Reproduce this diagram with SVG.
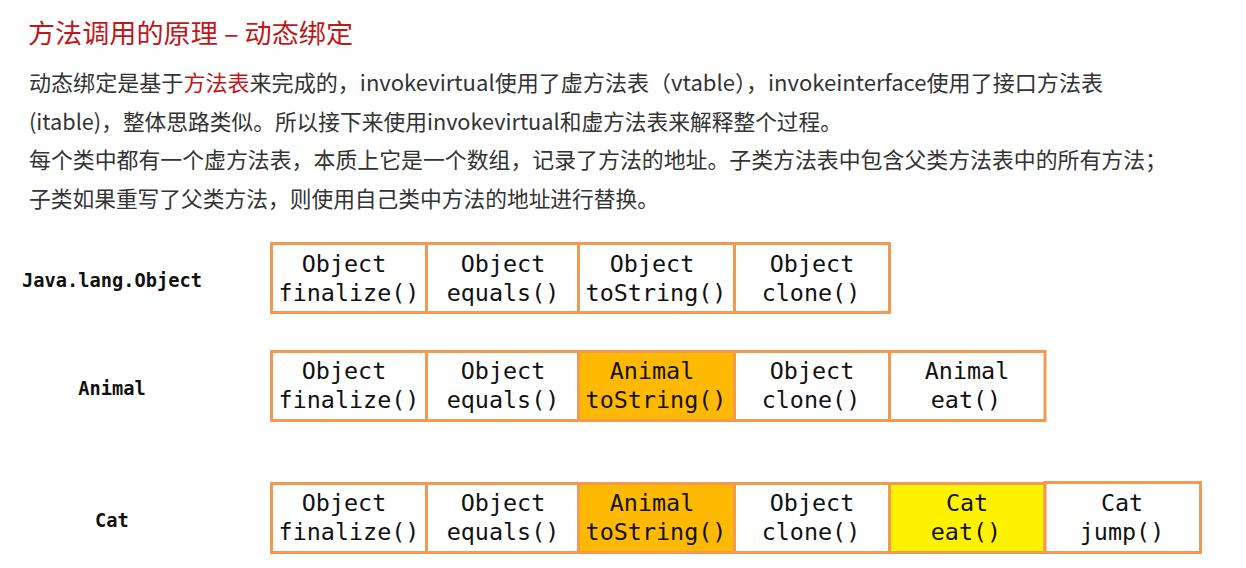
<svg xmlns="http://www.w3.org/2000/svg" width="1246" height="568" viewBox="0 0 1246 568">
<style>
.title{font-family:"Noto Sans CJK SC","Noto Sans",sans-serif;font-size:26.5px;fill:#c0171a}
.body{font-family:"Noto Sans CJK SC","Noto Sans",sans-serif;font-size:21.8px;fill:#333}
.red{fill:#c0171a}
.cell{fill:#ffffff;stroke:#f39a52;stroke-width:3}
.hl1{fill:#ffb900}
.hl2{fill:#fff200}
.ct{font-family:"DejaVu Sans Mono","Liberation Mono",monospace;font-size:23.4px;fill:#111;text-anchor:middle}
.lbl{font-family:"DejaVu Sans Mono","Liberation Mono",monospace;font-size:18.7px;font-weight:bold;fill:#111;text-anchor:middle}
</style>
<rect width="1246" height="568" fill="#ffffff"/>
<text class="title" x="28" y="43" textLength="325" lengthAdjust="spacingAndGlyphs">方法调用的原理 – 动态绑定</text>
<text class="body" x="29" y="91" textLength="1074" lengthAdjust="spacingAndGlyphs">动态绑定是基于<tspan class="red">方法表</tspan>来完成的，invokevirtual使用了虚方法表（vtable），invokeinterface使用了接口方法表</text>
<text class="body" x="29" y="130" textLength="813" lengthAdjust="spacingAndGlyphs">(itable)，整体思路类似。所以接下来使用invokevirtual和虚方法表来解释整个过程。</text>
<text class="body" x="29" y="168" textLength="1138" lengthAdjust="spacingAndGlyphs">每个类中都有一个虚方法表，本质上它是一个数组，记录了方法的地址。子类方法表中包含父类方法表中的所有方法；</text>
<text class="body" x="29" y="207" textLength="630" lengthAdjust="spacingAndGlyphs">子类如果重写了父类方法，则使用自己类中方法的地址进行替换。</text>

<g id="label-object"><text class="lbl" x="112" y="287">Java.lang.Object</text></g>
<g id="label-animal"><text class="lbl" x="112" y="395">Animal</text></g>
<g id="label-cat"><text class="lbl" x="112" y="527">Cat</text></g>

<g id="connectors"></g>

<!-- Row 1: Java.lang.Object -->
<g id="obj-finalize"><rect class="cell" x="271.5" y="243.5" width="155" height="69"/><text class="ct" x="344" y="272">Object</text><text class="ct" x="349" y="301">finalize()</text></g>
<g id="obj-equals"><rect class="cell" x="426.5" y="243.5" width="152" height="69"/><text class="ct" x="503" y="272">Object</text><text class="ct" x="503" y="301">equals()</text></g>
<g id="obj-tostring"><rect class="cell" x="578.5" y="243.5" width="156" height="69"/><text class="ct" x="652" y="272">Object</text><text class="ct" x="656" y="301">toString()</text></g>
<g id="obj-clone"><rect class="cell" x="734.5" y="243.5" width="155" height="69"/><text class="ct" x="812" y="272">Object</text><text class="ct" x="811" y="301">clone()</text></g>

<!-- Row 2: Animal -->
<g id="animal-finalize"><rect class="cell" x="271.5" y="351.5" width="155" height="69"/><text class="ct" x="344" y="379">Object</text><text class="ct" x="349" y="408">finalize()</text></g>
<g id="animal-equals"><rect class="cell" x="426.5" y="351.5" width="152" height="69"/><text class="ct" x="503" y="379">Object</text><text class="ct" x="503" y="408">equals()</text></g>
<g id="animal-tostring"><rect class="cell hl1" x="578.5" y="351.5" width="156" height="69"/><text class="ct" x="652" y="379">Animal</text><text class="ct" x="656" y="408">toString()</text></g>
<g id="animal-clone"><rect class="cell" x="734.5" y="351.5" width="155" height="69"/><text class="ct" x="812" y="379">Object</text><text class="ct" x="811" y="408">clone()</text></g>
<g id="animal-eat"><rect class="cell" x="889.5" y="351.5" width="155.5" height="69"/><text class="ct" x="967" y="379">Animal</text><text class="ct" x="966" y="408">eat()</text></g>

<!-- Row 3: Cat -->
<g id="cat-finalize"><rect class="cell" x="271.5" y="483.5" width="155" height="69"/><text class="ct" x="344" y="511">Object</text><text class="ct" x="349" y="540">finalize()</text></g>
<g id="cat-equals"><rect class="cell" x="426.5" y="483.5" width="152" height="69"/><text class="ct" x="503" y="511">Object</text><text class="ct" x="503" y="540">equals()</text></g>
<g id="cat-tostring"><rect class="cell hl1" x="578.5" y="483.5" width="156" height="69"/><text class="ct" x="652" y="511">Animal</text><text class="ct" x="656" y="540">toString()</text></g>
<g id="cat-clone"><rect class="cell" x="734.5" y="483.5" width="155" height="69"/><text class="ct" x="812" y="511">Object</text><text class="ct" x="811" y="540">clone()</text></g>
<g id="cat-eat"><rect class="cell hl2" x="889.5" y="483.5" width="155.5" height="69"/><text class="ct" x="967" y="511">Cat</text><text class="ct" x="966" y="540">eat()</text></g>
<g id="cat-jump"><rect class="cell" x="1045" y="482.5" width="155.5" height="70"/><text class="ct" x="1122" y="511">Cat</text><text class="ct" x="1122" y="540">jump()</text></g>
</svg>
